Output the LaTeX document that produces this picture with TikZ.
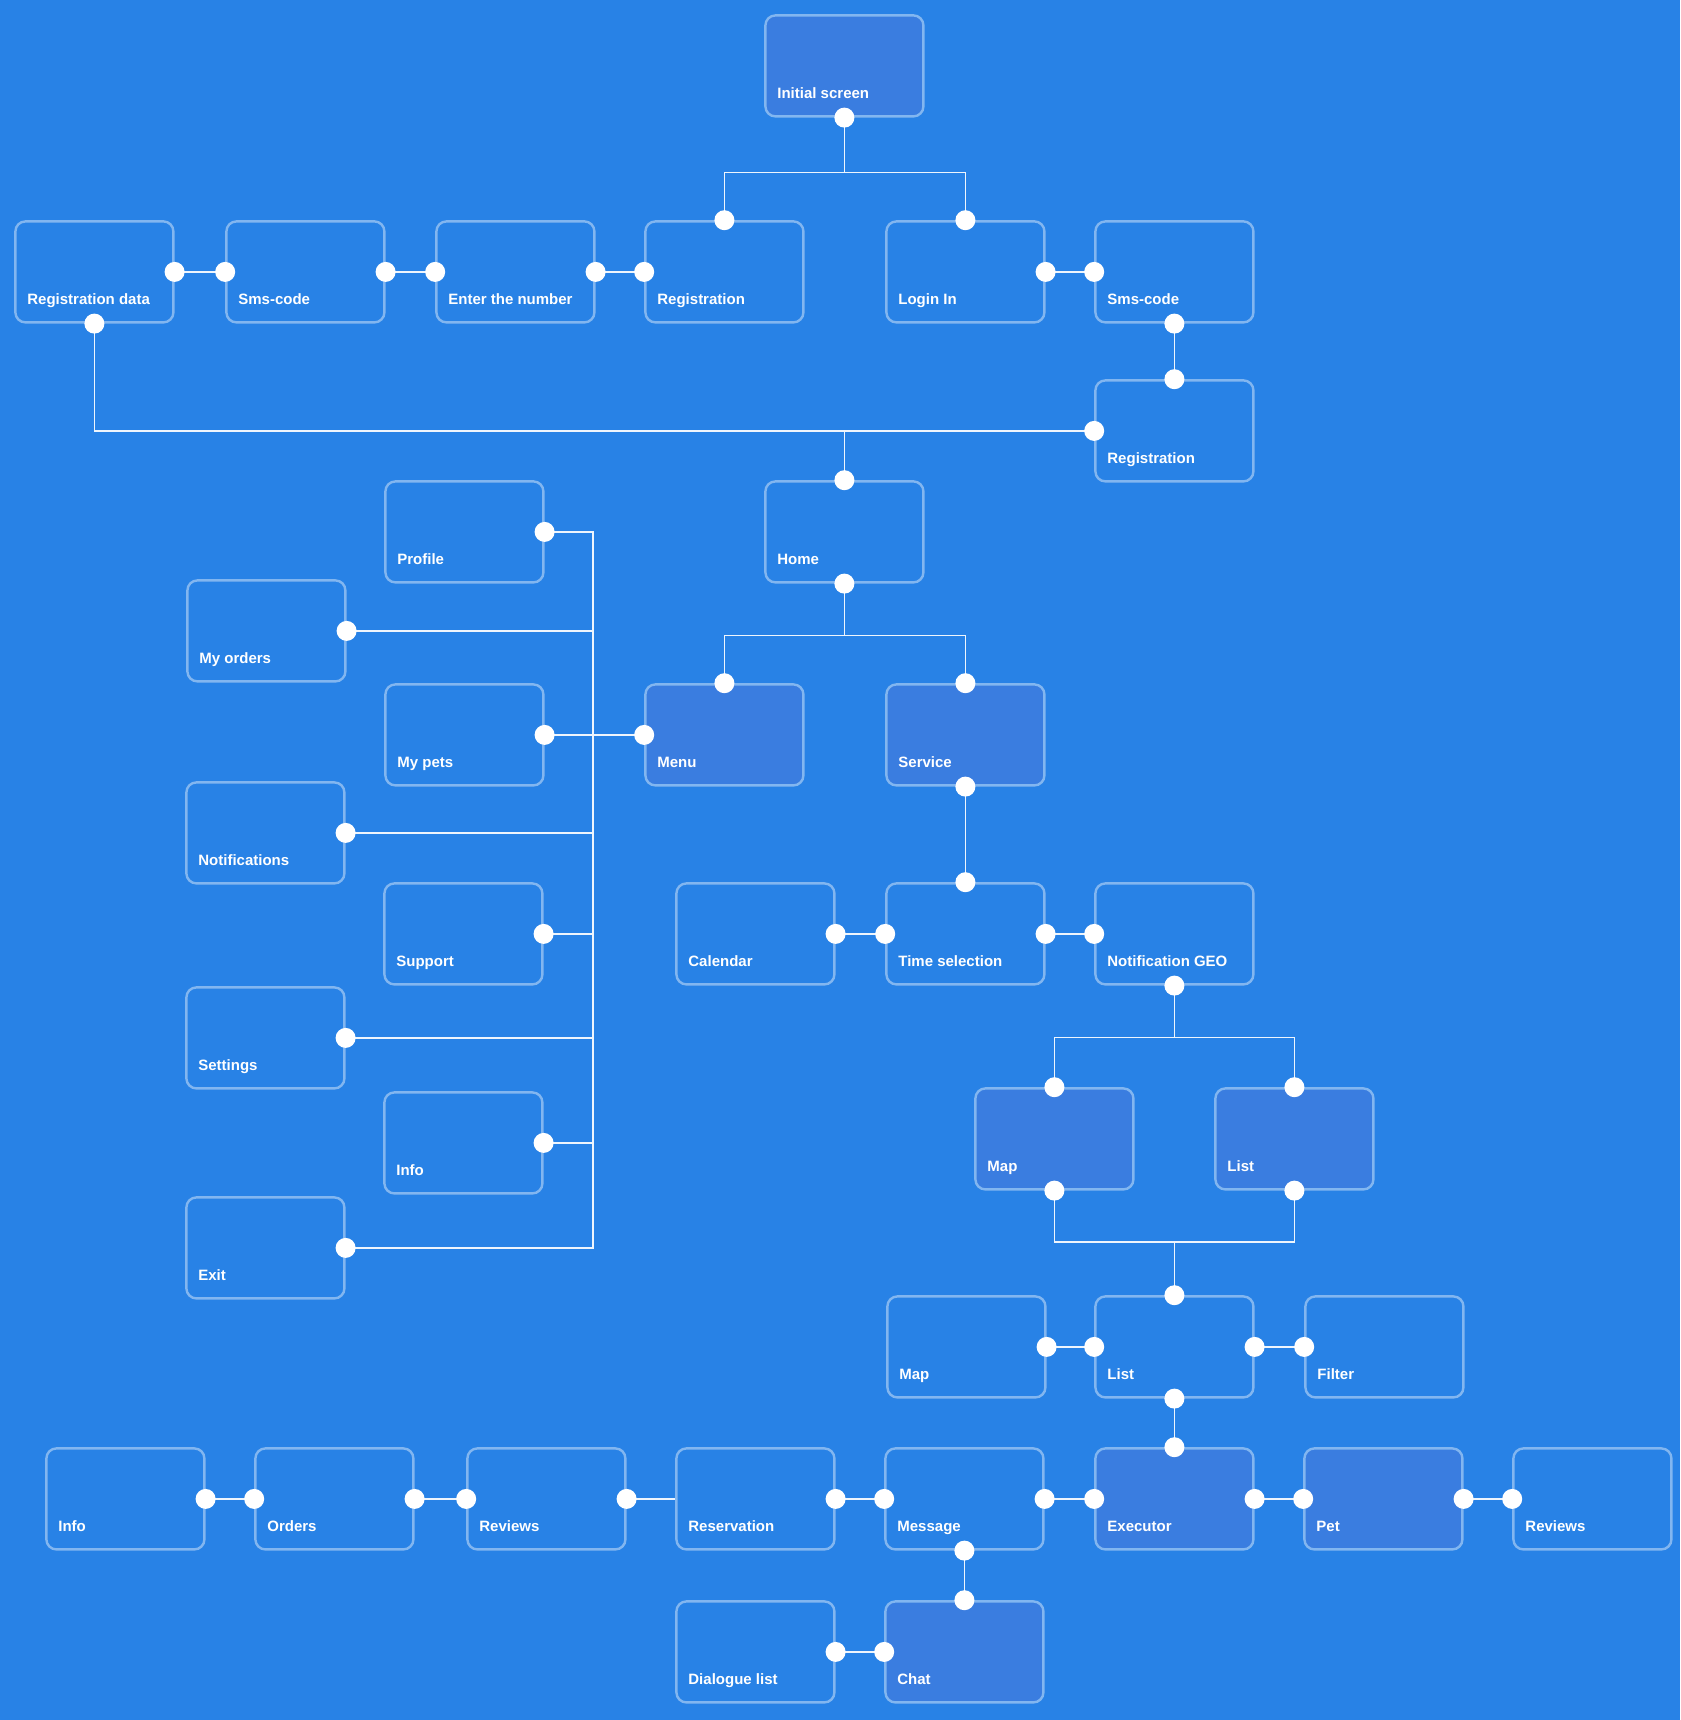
\documentclass[tikz,border=0pt]{standalone}
\usepackage{fontspec}
\setmainfont{Liberation Sans}
\usetikzlibrary{positioning}
\pgfdeclarelayer{nodelayer}
\pgfdeclarelayer{edgelayer}
\pgfsetlayers{nodelayer,edgelayer,main}
\definecolor{bgblue}{RGB}{40,130,230}
\definecolor{hlblue}{RGB}{58,125,224}
\tikzset{
  scrbox/.style={draw=white!42!bgblue, line width=2.4pt, rounded corners=10pt,
    minimum width=158pt, minimum height=101pt, inner sep=0pt, anchor=north west,
    xshift=1.2pt, yshift=-1.2pt},
  hlbox/.style={scrbox, fill=hlblue},
  scrtext/.style={text=white, font=\fontsize{15}{18}\selectfont\bfseries,
    anchor=base west, inner sep=0pt},
  wire/.style={draw=white!92!bgblue, line width=1.5pt},
  dot/.style={fill=white}
}
% box with its label in the lower left corner
\newcommand{\screenbox}[4][scrbox]{%
  \node [#1] (#2) at (#3) {};
  \node [scrtext] (#2-text) at ([xshift=13pt,yshift=19pt]#2.south west) {#4};
}

\begin{document}
\begin{tikzpicture}[x=1pt, y=-1pt]
  \useasboundingbox (0,0) rectangle (1680,1720);
  \begin{pgfonlayer}{nodelayer}
    \fill [bgblue] (0,0) rectangle (1680,1720);
    \screenbox[hlbox]{init}{763,13}{Initial screen}
    \screenbox{regdata}{13,219}{Registration data}
    \screenbox{smsA}{224,219}{Sms-code}
    \screenbox{number}{434,219}{Enter the number}
    \screenbox{regA}{643,219}{Registration}
    \screenbox{login}{884,219}{Login In}
    \screenbox{smsB}{1093,219}{Sms-code}
    \screenbox{regB}{1093,378}{Registration}
    \screenbox{home}{763,479}{Home}
    \screenbox{profile}{383,479}{Profile}
    \screenbox{orders}{185,578}{My orders}
    \screenbox{pets}{383,682}{My pets}
    \screenbox[hlbox]{menu}{643,682}{Menu}
    \screenbox[hlbox]{service}{884,682}{Service}
    \screenbox{notif}{184,780}{Notifications}
    \screenbox{support}{382,881}{Support}
    \screenbox{calendar}{674,881}{Calendar}
    \screenbox{time}{884,881}{Time selection}
    \screenbox{geo}{1093,881}{Notification GEO}
    \screenbox{settings}{184,985}{Settings}
    \screenbox{infoA}{382,1090}{Info}
    \screenbox[hlbox]{mapA}{973,1086}{Map}
    \screenbox[hlbox]{listA}{1213,1086}{List}
    \screenbox{exit}{184,1195}{Exit}
    \screenbox{mapB}{885,1294}{Map}
    \screenbox{listB}{1093,1294}{List}
    \screenbox{filter}{1303,1294}{Filter}
    \screenbox{infoB}{44,1446}{Info}
    \screenbox{ordersB}{253,1446}{Orders}
    \screenbox{reviewsA}{465,1446}{Reviews}
    \screenbox{reserv}{674,1446}{Reservation}
    \screenbox{message}{883,1446}{Message}
    \screenbox[hlbox]{executor}{1093,1446}{Executor}
    \screenbox[hlbox]{pet}{1302,1446}{Pet}
    \screenbox{reviewsB}{1511,1446}{Reviews}
    \screenbox{dialogue}{674,1599}{Dialogue list}
    \screenbox[hlbox]{chat}{883,1599}{Chat}
  \end{pgfonlayer}
  \begin{pgfonlayer}{edgelayer}
    \coordinate (trunk) at (593,0);
    % chains left to right
    \foreach \a/\b in {regdata/smsA, smsA/number, number/regA, login/smsB,
        calendar/time, time/geo, mapB/listB, listB/filter,
        infoB/ordersB, ordersB/reviewsA, reviewsA/reserv, reserv/message,
        message/executor, executor/pet, pet/reviewsB, dialogue/chat}
      \draw [wire] (\a.east) -- (\b.west);
    % straight down
    \foreach \a/\b in {smsB/regB, service/time, listB/executor, message/chat}
      \draw [wire] (\a.south) -- (\b.north);
    % forks
    \draw [wire] (init.south) -- ++(0,55) coordinate (initbus) -| (regA.north);
    \draw [wire] (initbus) -| (login.north);
    \draw [wire] (regdata.south) |- (regB.west);
    \draw [wire] (home.north) -- (home.north |- regB.west);
    \draw [wire] (home.south) -- ++(0,52) coordinate (homebus) -| (menu.north);
    \draw [wire] (homebus) -| (service.north);
    \draw [wire] (geo.south) -- ++(0,52) coordinate (geobus) -| (mapA.north);
    \draw [wire] (geobus) -| (listA.north);
    \draw [wire] (listB.north) -- ++(0,-53) coordinate (listbus);
    \draw [wire] (mapA.south) |- (listbus) -| (listA.south);
    % menu trunk
    \draw [wire] (profile.east) -| (trunk |- exit.east) -- (exit.east);
    \foreach \s in {orders, pets, notif, support, settings, infoA}
      \draw [wire] (\s.east) -- (trunk |- \s.east);
    \draw [wire] (menu.west) -- (trunk |- menu.west);
  \end{pgfonlayer}
  \foreach \p in {init.south, regA.north, login.north, regdata.east, regdata.south,
      smsA.west, smsA.east, number.west, number.east, regA.west, login.east,
      smsB.west, smsB.south, regB.north, regB.west, home.north, home.south,
      menu.north, service.north, menu.west, pets.east, profile.east, orders.east,
      notif.east, support.east, settings.east, infoA.east, exit.east,
      service.south, time.north, calendar.east, time.west, time.east, geo.west,
      geo.south, mapA.north, listA.north, mapA.south, listA.south, listB.north,
      mapB.east, listB.west, listB.east, filter.west, listB.south, executor.north,
      infoB.east, ordersB.west, ordersB.east, reviewsA.west, reviewsA.east,
      reserv.east, message.west, message.east, executor.west, executor.east,
      pet.west, pet.east, reviewsB.west, message.south, chat.north,
      dialogue.east, chat.west}
    \fill [dot] (\p) circle (10pt);
\end{tikzpicture}
\end{document}
